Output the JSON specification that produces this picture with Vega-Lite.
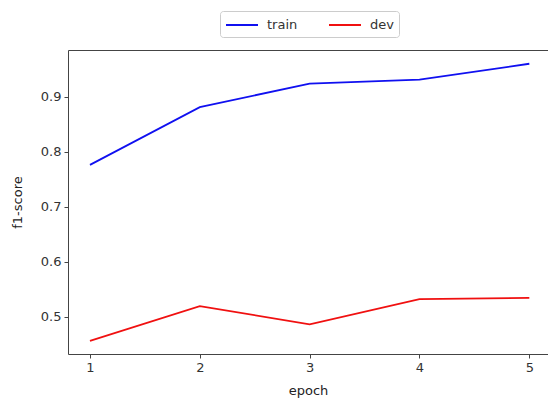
{
  "$schema": "https://vega.github.io/schema/vega-lite/v6.json",
  "autosize": {"type": "none"},
  "padding": {"left": 68, "top": 50, "right": 0, "bottom": 47},
  "width": 480,
  "height": 304,
  "background": "white",
  "config": {
    "font": "DejaVu Sans",
    "view": {"stroke": "#444", "strokeWidth": 1},
    "axis": {
      "grid": false,
      "domain": false,
      "tickColor": "#444",
      "tickSize": 4,
      "labelColor": "#333",
      "labelFontSize": 13,
      "labelFont": "DejaVu Sans",
      "titleFont": "DejaVu Sans",
      "titleFontSize": 13,
      "titleFontWeight": "normal",
      "titleColor": "#222",
      "labelPadding": 3
    }
  },
  "data": {
    "values": [
      {"epoch": 1, "score": 0.776, "set": "train"},
      {"epoch": 2, "score": 0.881, "set": "train"},
      {"epoch": 3, "score": 0.924, "set": "train"},
      {"epoch": 4, "score": 0.931, "set": "train"},
      {"epoch": 5, "score": 0.960, "set": "train"},
      {"epoch": 1, "score": 0.456, "set": "dev"},
      {"epoch": 2, "score": 0.519, "set": "dev"},
      {"epoch": 3, "score": 0.486, "set": "dev"},
      {"epoch": 4, "score": 0.532, "set": "dev"},
      {"epoch": 5, "score": 0.534, "set": "dev"}
    ]
  },
  "mark": {"type": "line", "strokeWidth": 1.8, "clip": true},
  "encoding": {
    "x": {
      "field": "epoch",
      "type": "quantitative",
      "scale": {"domain": [0.8, 5.17], "nice": false, "zero": false},
      "axis": {"values": [1, 2, 3, 4, 5], "format": "d", "title": "epoch", "titlePadding": 10}
    },
    "y": {
      "field": "score",
      "type": "quantitative",
      "scale": {"domain": [0.432, 0.985], "nice": false, "zero": false},
      "axis": {"values": [0.5, 0.6, 0.7, 0.8, 0.9], "format": ".1f", "title": "f1-score", "titlePadding": 16}
    },
    "color": {
      "field": "set",
      "type": "nominal",
      "scale": {"domain": ["train", "dev"], "range": ["#1010f0", "#f01010"]},
      "legend": {
        "title": null,
        "orient": "none",
        "legendX": 152,
        "legendY": -39,
        "direction": "horizontal",
        "columns": 2,
        "symbolType": "M-2,0H2",
        "symbolSize": 256,
        "symbolStrokeWidth": 2,
        "symbolOffset": 8,
        "labelFontSize": 13,
        "labelColor": "#333",
        "labelOffset": 16,
        "columnPadding": 27,
        "padding": 5,
        "fillColor": "white",
        "strokeColor": "#ccc",
        "cornerRadius": 3
      }
    }
  }
}
